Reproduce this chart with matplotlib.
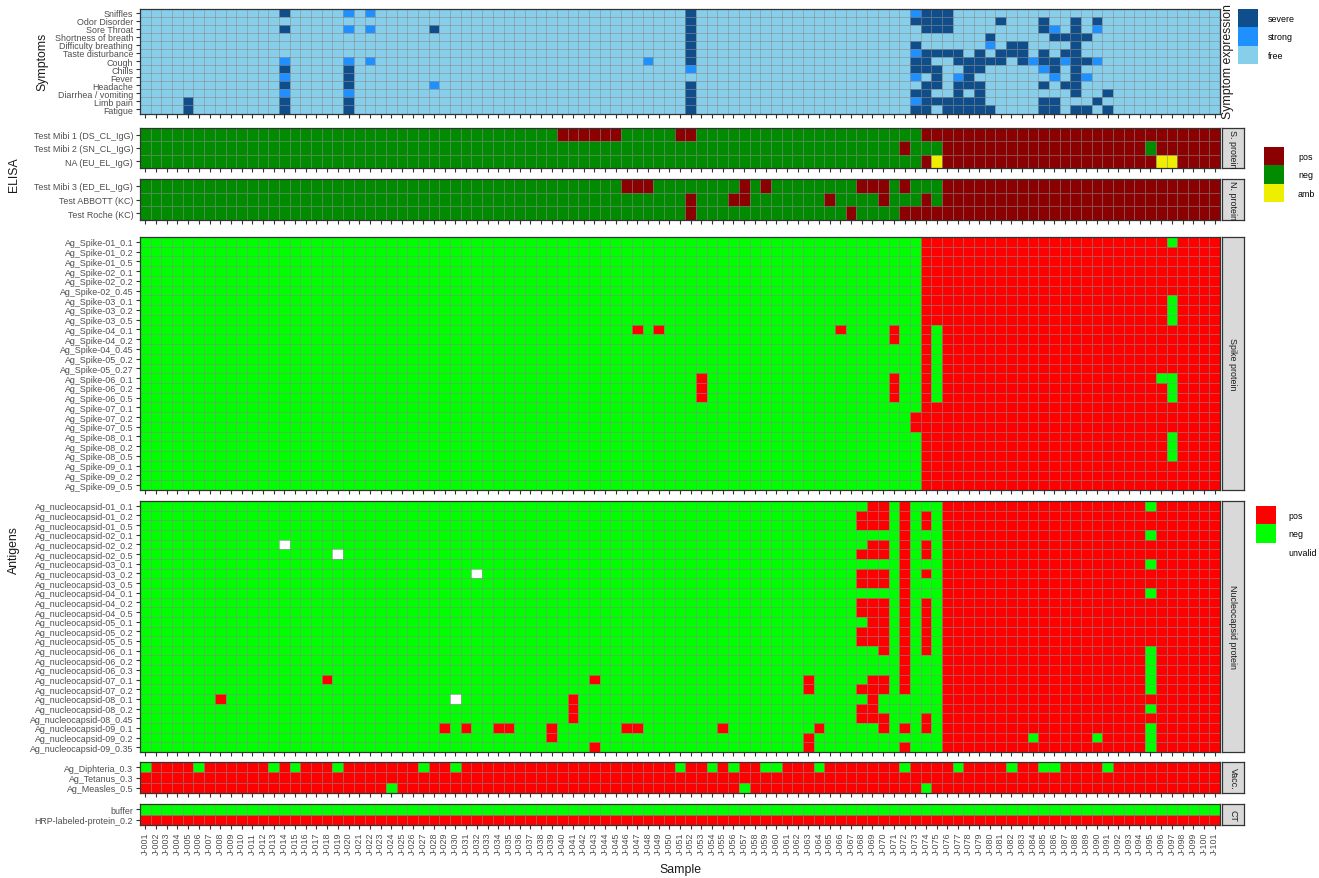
import numpy as np
import matplotlib.pyplot as plt
from matplotlib.colors import ListedColormap, BoundaryNorm
from matplotlib.patches import Patch

plt.rcParams['font.family'] = ['Liberation Sans', 'DejaVu Sans']

W, H = 1319, 879

samples = ['J-%03d' % i for i in range(1, 102)]

# one string per row, one char per sample, blocks of 10 samples
# symptoms: '.' free, '+' strong, '#' severe
symptom_labels = ['Sniffles', 'Odor Disorder', 'Sore Throat', 'Shortness of breath',
                  'Difficulty breathing', 'Taste disturbance', 'Cough', 'Chills', 'Fever',
                  'Headache', 'Diarrhea / vomiting', 'Limb pain', 'Fatigue']
symptom_rows = [
    '.......... ...#.....+ .+........ .......... .......... .#........ .......... ..+###.... .......... .......... .',
    '.......... .......... .......... .......... .......... .#........ .......... ..####.... #...#..#.# .......... .',
    '.......... ...#.....+ .+.....#.. .......... .......... .#........ .......... ...###.... ....#+.#.+ .......... .',
    '.......... .......... .......... .......... .......... .#........ .......... .........# .....####. .......... .',
    '.......... .......... .......... .......... .......... .#........ .......... ..#......+ .##....#.. .......... .',
    '.......... .......... .......... .......... .......... .#........ .......... ..+####.#. ###.#.##.. .......... .',
    '.......... ...+.....+ .+........ .......... .......+.. .#........ .......... ..##..#### #.#+##+##+ .......... .',
    '.......... ...#.....# .......... .......... .......... .+........ .......... ..###..##. ....+#.#.. .......... .',
    '.......... ...+.....# .......... .......... .......... .......... .......... ..+.#.+#.. .....+.#+. .......... .',
    '.......... ...#.....# .......+.. .......... .......... .#........ .......... ...##.###. ....#.##.. .......... .',
    '.......... ...+.....+ .......... .......... .......... .#........ .......... ..##..#.#. .......#.. #......... .',
    '....#..... ...#.....# .......... .......... .......... .#........ .......... ..+######. ....##...# .......... .',
    '....#..... ...#.....# .......... .......... .......... .#........ .......... ..##.##### ....##.##. #......... .',
]
symptom_levels = ['free', 'strong', 'severe']
symptom_colors = ['#87CEEB', '#1E90FF', '#104E8B']

# ELISA: '+' pos, '-' neg, '?' amb
elisa_s_labels = ['Test Mibi 1 (DS_CL_IgG)', 'Test Mibi 2 (SN_CL_IgG)', 'NA (EU_EL_IgG)']
elisa_s_rows = [
    '---------- ---------- ---------- ---------+ +++++----- ++-------- ---------- ---+++++++ ++++++++++ ++++++++++ +',
    '---------- ---------- ---------- ---------- ---------- ---------- ---------- -+---+++++ ++++++++++ ++++-+++++ +',
    '---------- ---------- ---------- ---------- ---------- ---------- ---------- ---+?+++++ ++++++++++ +++++??+++ +',
]
elisa_n_labels = ['Test Mibi 3 (ED_EL_IgG)', 'Test ABBOTT (KC)', 'Test Roche (KC)']
elisa_n_rows = [
    '---------- ---------- ---------- ---------- -----+++-- ------+-+- -------+++ -+---+++++ ++++++++++ ++++++++++ +',
    '---------- ---------- ---------- ---------- ---------- -+---++--- ----+----+ ---+-+++++ ++++++++++ ++++++++++ +',
    '---------- ---------- ---------- ---------- ---------- -+-------- ------+--- -+++++++++ ++++++++++ ++++++++++ +',
]
elisa_colors = ['#8B0000', '#008B00', '#EEEE00']

# antigens: '+' pos, '-' neg, 'o' unvalid
spike_labels = ['Ag_Spike-01_0.1', 'Ag_Spike-01_0.2', 'Ag_Spike-01_0.5', 'Ag_Spike-02_0.1',
                'Ag_Spike-02_0.2', 'Ag_Spike-02_0.45', 'Ag_Spike-03_0.1', 'Ag_Spike-03_0.2',
                'Ag_Spike-03_0.5', 'Ag_Spike-04_0.1', 'Ag_Spike-04_0.2', 'Ag_Spike-04_0.45',
                'Ag_Spike-05_0.2', 'Ag_Spike-05_0.27', 'Ag_Spike-06_0.1', 'Ag_Spike-06_0.2',
                'Ag_Spike-06_0.5', 'Ag_Spike-07_0.1', 'Ag_Spike-07_0.2', 'Ag_Spike-07_0.5',
                'Ag_Spike-08_0.1', 'Ag_Spike-08_0.2', 'Ag_Spike-08_0.5', 'Ag_Spike-09_0.1',
                'Ag_Spike-09_0.2', 'Ag_Spike-09_0.5']
spike_rows = [
    '---------- ---------- ---------- ---------- ---------- ---------- ---------- ---+++++++ ++++++++++ ++++++-+++ +',
    '---------- ---------- ---------- ---------- ---------- ---------- ---------- ---+++++++ ++++++++++ ++++++++++ +',
    '---------- ---------- ---------- ---------- ---------- ---------- ---------- ---+++++++ ++++++++++ ++++++++++ +',
    '---------- ---------- ---------- ---------- ---------- ---------- ---------- ---+++++++ ++++++++++ ++++++++++ +',
    '---------- ---------- ---------- ---------- ---------- ---------- ---------- ---+++++++ ++++++++++ ++++++++++ +',
    '---------- ---------- ---------- ---------- ---------- ---------- ---------- ---+++++++ ++++++++++ ++++++++++ +',
    '---------- ---------- ---------- ---------- ---------- ---------- ---------- ---+++++++ ++++++++++ ++++++-+++ +',
    '---------- ---------- ---------- ---------- ---------- ---------- ---------- ---+++++++ ++++++++++ ++++++-+++ +',
    '---------- ---------- ---------- ---------- ---------- ---------- ---------- ---+++++++ ++++++++++ ++++++-+++ +',
    '---------- ---------- ---------- ---------- ------+-+- ---------- -----+---- +--+-+++++ ++++++++++ ++++++++++ +',
    '---------- ---------- ---------- ---------- ---------- ---------- ---------- +--+-+++++ ++++++++++ ++++++++++ +',
    '---------- ---------- ---------- ---------- ---------- ---------- ---------- ---+-+++++ ++++++++++ ++++++++++ +',
    '---------- ---------- ---------- ---------- ---------- ---------- ---------- ---+-+++++ ++++++++++ ++++++++++ +',
    '---------- ---------- ---------- ---------- ---------- ---------- ---------- ---+-+++++ ++++++++++ ++++++++++ +',
    '---------- ---------- ---------- ---------- ---------- --+------- ---------- +--+-+++++ ++++++++++ +++++--+++ +',
    '---------- ---------- ---------- ---------- ---------- --+------- ---------- +--+-+++++ ++++++++++ ++++++-+++ +',
    '---------- ---------- ---------- ---------- ---------- --+------- ---------- +--+-+++++ ++++++++++ ++++++-+++ +',
    '---------- ---------- ---------- ---------- ---------- ---------- ---------- ---+++++++ ++++++++++ ++++++++++ +',
    '---------- ---------- ---------- ---------- ---------- ---------- ---------- --++++++++ ++++++++++ ++++++++++ +',
    '---------- ---------- ---------- ---------- ---------- ---------- ---------- --++++++++ ++++++++++ ++++++++++ +',
    '---------- ---------- ---------- ---------- ---------- ---------- ---------- ---+++++++ ++++++++++ ++++++-+++ +',
    '---------- ---------- ---------- ---------- ---------- ---------- ---------- ---+++++++ ++++++++++ ++++++-+++ +',
    '---------- ---------- ---------- ---------- ---------- ---------- ---------- ---+++++++ ++++++++++ ++++++-+++ +',
    '---------- ---------- ---------- ---------- ---------- ---------- ---------- ---+++++++ ++++++++++ ++++++++++ +',
    '---------- ---------- ---------- ---------- ---------- ---------- ---------- ---+++++++ ++++++++++ ++++++++++ +',
    '---------- ---------- ---------- ---------- ---------- ---------- ---------- ---+++++++ ++++++++++ ++++++++++ +',
]
nucleo_labels = ['Ag_nucleocapsid-01_0.1', 'Ag_nucleocapsid-01_0.2', 'Ag_nucleocapsid-01_0.5',
                 'Ag_nucleocapsid-02_0.1', 'Ag_nucleocapsid-02_0.2', 'Ag_nucleocapsid-02_0.5',
                 'Ag_nucleocapsid-03_0.1', 'Ag_nucleocapsid-03_0.2', 'Ag_nucleocapsid-03_0.5',
                 'Ag_nucleocapsid-04_0.1', 'Ag_nucleocapsid-04_0.2', 'Ag_nucleocapsid-04_0.5',
                 'Ag_nucleocapsid-05_0.1', 'Ag_nucleocapsid-05_0.2', 'Ag_nucleocapsid-05_0.5',
                 'Ag_nucleocapsid-06_0.1', 'Ag_nucleocapsid-06_0.2', 'Ag_nucleocapsid-06_0.3',
                 'Ag_nucleocapsid-07_0.1', 'Ag_nucleocapsid-07_0.2', 'Ag_nucleocapsid-08_0.1',
                 'Ag_nucleocapsid-08_0.2', 'Ag_nucleocapsid-08_0.45', 'Ag_nucleocapsid-09_0.1',
                 'Ag_nucleocapsid-09_0.2', 'Ag_nucleocapsid-09_0.35']
nucleo_rows = [
    '---------- ---------- ---------- ---------- ---------- ---------- --------++ -+---+++++ ++++++++++ ++++-+++++ +',
    '---------- ---------- ---------- ---------- ---------- ---------- -------+++ -+-+-+++++ ++++++++++ ++++++++++ +',
    '---------- ---------- ---------- ---------- ---------- ---------- -------+++ -+-+-+++++ ++++++++++ ++++++++++ +',
    '---------- ---------- ---------- ---------- ---------- ---------- ---------- -+---+++++ ++++++++++ ++++-+++++ +',
    '---------- ---o------ ---------- ---------- ---------- ---------- --------++ -+-+-+++++ ++++++++++ ++++++++++ +',
    '---------- --------o- ---------- ---------- ---------- ---------- -------+++ -+-+-+++++ ++++++++++ ++++++++++ +',
    '---------- ---------- ---------- ---------- ---------- ---------- ---------- -+---+++++ ++++++++++ ++++-+++++ +',
    '---------- ---------- ---------- -o-------- ---------- ---------- -------+++ -+-+-+++++ ++++++++++ ++++++++++ +',
    '---------- ---------- ---------- ---------- ---------- ---------- -------+++ -+---+++++ ++++++++++ ++++++++++ +',
    '---------- ---------- ---------- ---------- ---------- ---------- ---------- -+---+++++ ++++++++++ ++++-+++++ +',
    '---------- ---------- ---------- ---------- ---------- ---------- -------+++ -+-+-+++++ ++++++++++ ++++++++++ +',
    '---------- ---------- ---------- ---------- ---------- ---------- -------+++ -+-+-+++++ ++++++++++ ++++++++++ +',
    '---------- ---------- ---------- ---------- ---------- ---------- --------++ -+-+-+++++ ++++++++++ ++++++++++ +',
    '---------- ---------- ---------- ---------- ---------- ---------- -------+++ -+-+-+++++ ++++++++++ ++++++++++ +',
    '---------- ---------- ---------- ---------- ---------- ---------- -------+++ -+-+-+++++ ++++++++++ ++++++++++ +',
    '---------- ---------- ---------- ---------- ---------- ---------- ---------+ -+-+-+++++ ++++++++++ ++++-+++++ +',
    '---------- ---------- ---------- ---------- ---------- ---------- ---------- -+---+++++ ++++++++++ ++++-+++++ +',
    '---------- ---------- ---------- ---------- ---------- ---------- ---------- -+---+++++ ++++++++++ ++++-+++++ +',
    '---------- -------+-- ---------- ---------- --+------- ---------- --+-----++ -+---+++++ ++++++++++ ++++-+++++ +',
    '---------- ---------- ---------- ---------- ---------- ---------- --+----+++ -+---+++++ ++++++++++ ++++-+++++ +',
    '-------+-- ---------- ---------o ---------- +--------- ---------- --------+- -----+++++ ++++++++++ ++++++++++ +',
    '---------- ---------- ---------- ---------- +--------- ---------- -------++- -----+++++ ++++++++++ ++++-+++++ +',
    '---------- ---------- ---------- ---------- +--------- ---------- -------+++ ---+-+++++ ++++++++++ ++++++++++ +',
    '---------- ---------- --------+- +--++---+- -----++--- ----+----- ---+-----+ -+-+-+++++ ++++++++++ ++++-+++++ +',
    '---------- ---------- ---------- --------+- ---------- ---------- --+------- -----+++++ +++-+++++- ++++-+++++ +',
    '---------- ---------- ---------- ---------- --+------- ---------- --+------- -+---+++++ ++++++++++ ++++-+++++ +',
]
vacc_labels = ['Ag_Diphteria_0.3', 'Ag_Tetanus_0.3', 'Ag_Measles_0.5']
vacc_rows = [
    '-++++-++++ ++-+-+++-+ ++++++-++- ++++++++++ ++++++++++ -++-+-++-- +++-++++++ +-++++-+++ +-++--++++ -+++++++++ +',
    '++++++++++ ++++++++++ ++++++++++ ++++++++++ ++++++++++ ++++++++++ ++++++++++ ++++++++++ ++++++++++ ++++++++++ +',
    '++++++++++ ++++++++++ +++-++++++ ++++++++++ ++++++++++ ++++++-+++ ++++++++++ +++-++++++ ++++++++++ ++++++++++ +',
]
ct_labels = ['buffer', 'HRP-labeled-protein_0.2']
ct_rows = [
    '---------- ---------- ---------- ---------- ---------- ---------- ---------- ---------- ---------- ---------- -',
    '++++++++++ ++++++++++ ++++++++++ ++++++++++ ++++++++++ ++++++++++ ++++++++++ ++++++++++ ++++++++++ ++++++++++ +',
]
antigen_colors = ['#FF0000', '#00FF00', '#FFFFFF']

GRID = (0.45, 0.45, 0.45, 0.55)
DARK = '#333333'
TICK = '#4D4D4D'
FS = 6.4

fig = plt.figure(figsize=(W / 100, H / 100), dpi=100)


def rect(top, bottom, left=140, right=1220):
    return [left / W, 1 - bottom / H, (right - left) / W, (bottom - top) / H]


def panel(top, bottom, rows, codes, colors, labels, xlabels=False):
    ax = fig.add_axes(rect(top, bottom))
    grid = np.array([[codes.index(c) for c in r.replace(' ', '')] for r in rows])
    cmap = ListedColormap(colors)
    norm = BoundaryNorm(np.arange(len(colors) + 1) - 0.5, len(colors))
    nr, nc = grid.shape
    ax.pcolormesh(np.arange(nc + 1), np.arange(nr + 1), grid, cmap=cmap, norm=norm,
                  edgecolors=[GRID], linewidth=0.45, antialiased=True)
    ax.set_xlim(0, nc)
    ax.set_ylim(nr, 0)
    ax.set_yticks(np.arange(nr) + 0.5, labels)
    if xlabels:
        ax.set_xticks(np.arange(nc) + 0.5, samples, rotation=90)
    else:
        ax.set_xticks(np.arange(nc) + 0.5, [])
    ax.tick_params(length=2.75, width=0.8, color=DARK, labelsize=FS,
                   labelcolor=TICK, pad=2.2)
    for s in ax.spines.values():
        s.set_color(DARK)
        s.set_linewidth(0.9)
    return ax


def strip(top, bottom, text):
    sax = fig.add_axes(rect(top, bottom, 1222, 1244))
    sax.set_facecolor('#D9D9D9')
    sax.set_xticks([])
    sax.set_yticks([])
    for s in sax.spines.values():
        s.set_color(DARK)
        s.set_linewidth(0.9)
    sax.text(0.5, 0.5, text, rotation=-90, ha='center', va='center',
             fontsize=FS, color='#1A1A1A', transform=sax.transAxes)


def legend(labels, colors, x, y, text_x):
    fpx = FS * 100 / 72
    handles = [Patch(facecolor=c, edgecolor='none', label=l) for l, c in zip(labels, colors)]
    fig.legend(handles=handles, loc='upper left', bbox_to_anchor=(x / W, 1 - y / H),
               frameon=False, fontsize=FS, handlelength=20 / fpx, handleheight=2.8,
               labelspacing=0, borderpad=0, borderaxespad=0,
               handletextpad=(text_x - x - 20) / fpx)


panel(9.5, 114.5, symptom_rows, '.+#', symptom_colors, symptom_labels)
panel(129, 169, elisa_s_rows, '+-?', elisa_colors, elisa_s_labels)
panel(180, 221, elisa_n_rows, '+-?', elisa_colors, elisa_n_labels)
panel(238, 491, spike_rows, '+-o', antigen_colors, spike_labels)
panel(502, 753, nucleo_rows, '+-o', antigen_colors, nucleo_labels)
panel(763, 794, vacc_rows, '+-o', antigen_colors, vacc_labels)
panel(805, 826, ct_rows, '+-o', antigen_colors, ct_labels, xlabels=True)

strip(129, 169, 'S. protein')
strip(180, 221, 'N. protein')
strip(238, 491, 'Spike protein')
strip(502, 753, 'Nucleocapsid protein')
strip(763, 794, 'Vacc.')
strip(805, 826, 'CT')

legend(['severe', 'strong', 'free'], symptom_colors[::-1], 1238, 10, 1268)
legend(['pos', 'neg', 'amb'], elisa_colors, 1264, 148, 1298)
legend(['pos', 'neg', 'unvalid'], antigen_colors, 1256, 507, 1288)

TS = 8.8
fig.text(1228 / W, 1 - 62 / H, 'Symptom expression', rotation=90, ha='center', va='center',
         fontsize=TS, color='#1A1A1A')
fig.text(42 / W, 1 - 62 / H, 'Symptoms', rotation=90, ha='center', va='center',
         fontsize=TS, color='#1A1A1A')
fig.text(14 / W, 1 - 175 / H, 'ELISA', rotation=90, ha='center', va='center',
         fontsize=TS, color='#1A1A1A')
fig.text(14 / W, 1 - 550 / H, 'Antigens', rotation=90, ha='center', va='center',
         fontsize=TS, color='#1A1A1A')
fig.text(680 / W, 1 - 870 / H, 'Sample', ha='center', va='center',
         fontsize=TS, color='#1A1A1A')

fig.savefig('out.png', dpi=100, facecolor='white')
